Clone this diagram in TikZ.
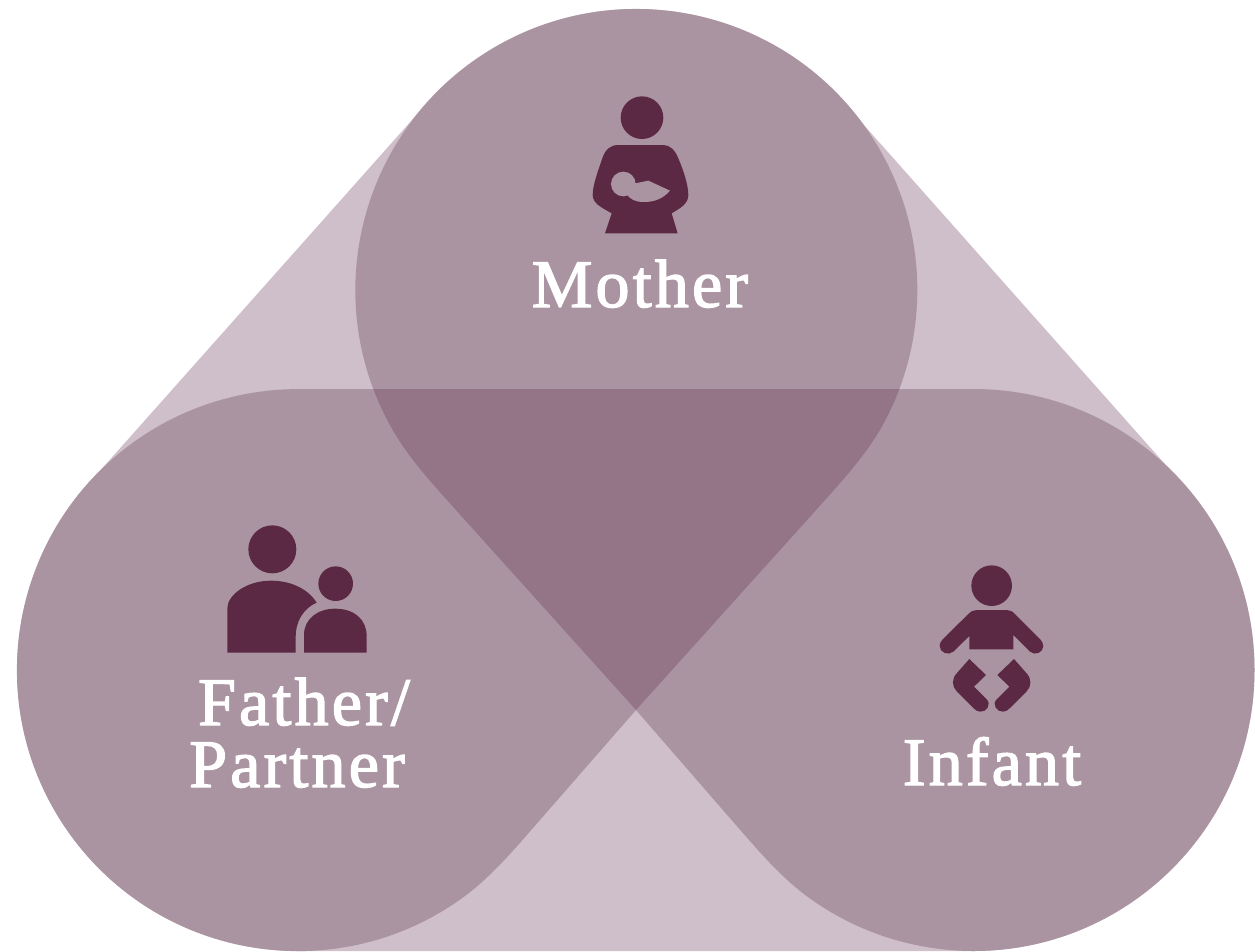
\documentclass[tikz,border=0pt]{standalone}
\usepackage{fontspec}
\setmainfont{Liberation Serif}
\newfontfamily\labfont[LetterSpace=4.7,FakeBold=2]{Liberation Serif}
\definecolor{lightc}{HTML}{CEBFCA}
\definecolor{midc}{HTML}{AB94A1}
\definecolor{darkc}{HTML}{947588}
\definecolor{iconc}{HTML}{5C2945}
\newcommand{\motherdrop}{(636,710) -- (455,509) .. controls (433,484.4) and (409.5,459) .. (393,430.5)
  arc[start angle=150,end angle=390,radius=281]
  .. controls (862.5,459) and (839,484.4) .. (817,509) -- cycle}
\newcommand{\lowerlobes}{(298,389) -- (973.5,389) arc[start angle=270,end angle=485.9,radius=281]
  .. controls (783.7,879.5) and (762.4,855.4) .. (742,832)
  -- (636,710) -- (529.5,832) .. controls (509.1,855.4) and (487.8,879.5) .. (462.7,897.7)
  arc[start angle=54.1,end angle=270,radius=281] -- cycle}
\tikzset{
  hull/.style={fill=lightc,draw=none},
  lobe/.style={fill=midc,draw=none},
  overlap/.style={fill=darkc,draw=none},
  icon/.style={fill=iconc,draw=none},
  iconhole/.style={fill=midc,draw=none},
  lab/.style={text=white,anchor=base,inner sep=0pt,font=\labfont\fontsize{38.7}{40}\selectfont}
}
\begin{document}
\begin{tikzpicture}[x=0.02cm,y=-0.02cm]
\useasboundingbox (0,0) rectangle (1255,951);
% base hull
\fill[hull] (636,290) circle[radius=281];
\fill[hull] (298,670) circle[radius=281];
\fill[hull] (973.5,670) circle[radius=281];
\fill[hull] (426.6,103.6) -- (845.4,104.2) -- (1182.8,484.2) -- (973.5,951) -- (298,951) -- (88.6,483.6) -- cycle;
% petals
\fill[lobe] \motherdrop;
\fill[lobe] \lowerlobes;
\begin{scope}
  \clip \motherdrop;
  \fill[overlap] \lowerlobes;
\end{scope}
% Mother icon
\begin{scope}[shift={(520,80)},scale=1/3]
  \fill[icon] (366,113) circle[radius=64];
  \fill[icon] (255,460) -- (473,460) -- (455,400)
    .. controls (480,385) and (505,372) .. (505,345)
    .. controls (505,315) and (490,270) .. (475,235)
    .. controls (465,210) and (450,195) .. (430,195) -- (295,195)
    .. controls (270,195) and (255,210) .. (247,235)
    .. controls (235,270) and (218,315) .. (218,345)
    .. controls (218,372) and (250,385) .. (275,400) -- cycle;
  \fill[iconhole] (310,312) circle[radius=37];
  \fill[iconhole] (330,300) .. controls (337,298) and (342,305) .. (346,310) -- (385,302) -- (450,332)
    .. controls (430,355) and (405,366) .. (372,366)
    .. controls (345,366) and (330,358) .. (318,340) -- cycle;
\end{scope}
% Father / partner icon
\begin{scope}[shift={(180,510)},scale=1/3]
  \fill[icon] (277,118) circle[radius=72];
  \fill[icon] (467,221) circle[radius=52];
  \fill[icon] (142,428) -- (142,295)
    .. controls (142,255) and (200,212) .. (272,212)
    .. controls (335,212) and (385,238) .. (410,278)
    .. controls (370,295) and (347,335) .. (347,380) -- (347,428) -- cycle;
  \fill[icon] (372,428) -- (372,375)
    .. controls (372,325) and (415,296) .. (465,296)
    .. controls (525,296) and (560,330) .. (560,378) -- (560,428) -- cycle;
\end{scope}
% Infant icon
\begin{scope}[shift={(890,550)},scale=1/3]
  \fill[icon] (305,107) circle[radius=61];
  \fill[icon] (238,298) -- (370,298) -- (370,255) -- (420,305)
    .. controls (435,318) and (460,308) .. (460,288)
    .. controls (460,280) and (455,272) .. (450,267)
    -- (375,192) .. controls (367,184) and (360,180) .. (350,180) -- (260,180)
    .. controls (250,180) and (243,184) .. (235,192)
    -- (158,268) .. controls (152,274) and (149,280) .. (149,288)
    .. controls (149,308) and (175,318) .. (190,305) -- (238,258) -- cycle;
  \fill[icon] (238,327) -- (288,375) -- (252,410) -- (290,448)
    .. controls (305,463) and (290,487) .. (270,485)
    .. controls (262,485) and (256,480) .. (250,474)
    -- (200,424) .. controls (185,409) and (185,386) .. (200,370) -- cycle;
  \fill[icon] (372,327) -- (322,375) -- (358,410) -- (320,448)
    .. controls (305,463) and (320,487) .. (340,485)
    .. controls (348,485) and (354,480) .. (360,474)
    -- (410,424) .. controls (425,409) and (425,386) .. (410,370) -- cycle;
\end{scope}
% Labels
\node[lab] (mother) at (640,307) {Mother};
\node[lab] (father) at (304,725) {Father/};
\node[lab] (partner) at (297,787) {Partner};
\node[lab] (infant) at (992,785) {Infant};
\end{tikzpicture}
\end{document}
